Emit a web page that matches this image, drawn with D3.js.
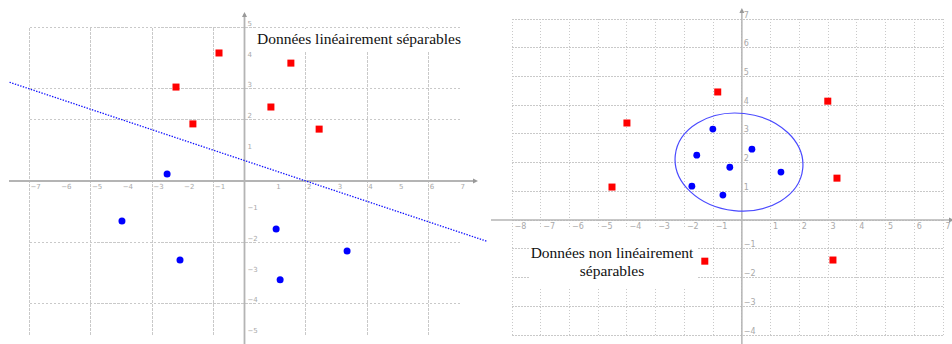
<!DOCTYPE html>
<html>
<head>
<meta charset="utf-8">
<script src="https://cdn.jsdelivr.net/npm/d3@7"></script>
<style>
  html, body { margin: 0; padding: 0; background: #fff; }
  svg { display: block; }
</style>
</head>
<body>
<svg id="chart" width="952" height="344"></svg>
<script>
// ---------- DATA ----------
// Left panel: linearly separable data
const leftRed  = [[-2.23, 3.06], [-0.83, 4.17], [-1.68, 1.86], [1.51, 3.84], [0.86, 2.41], [2.43, 1.69]];
const leftBlue = [[-2.52, 0.23], [-3.99, -1.30], [-2.10, -2.57], [1.03, -1.56], [3.34, -2.28], [1.16, -3.22]];
// Separating line: a*x + b*y = c
const sepLine = { a: 1, b: 3, c: 2 };
const sepRange = [-7.65, 7.9];
const leftTicksX = [-7, -6, -5, -4, -3, -2, -1, 1, 2, 3, 4, 5, 6, 7];
const leftTicksY = [-5, -4, -3, -2, -1, 1, 2, 3, 4, 5];
const leftGridX = [-7, -5, -3, -1, 2, 4, 6];
const leftGridY = [5, 3, 2, -2, -4];
const leftTitle = "Données linéairement séparables";

// Right panel: non linearly separable data
const rightRed  = [[-4.0, 3.38], [-0.84, 4.46], [2.99, 4.14], [-4.52, 1.15], [-1.29, -1.43], [3.31, 1.46], [3.17, -1.39]];
const rightBlue = [[-1.01, 3.17], [-1.57, 2.26], [0.35, 2.47], [-0.42, 1.84], [1.36, 1.67], [-1.74, 1.18], [-0.66, 0.87]];
const ellipse = { cx: -0.1, cy: 2.02, rx: 2.23, ry: 1.70, angle: 6 };
const rightTicksX = [-8, -7, -6, -5, -4, -3, -2, -1, 1, 2, 3, 4, 5, 6, 7];
const rightTicksY = [-4, -3, -2, -1, 1, 2, 3, 4, 5, 6, 7];
const rightGridX = d3.range(-8, 8);
const rightGridY = d3.range(-4, 8);
const rightTitle = ["Données non linéairement", "séparables"];

// ---------- DRAW ----------
const svg = d3.select("#chart");
const gridColor = "#c9c9c9";
const axisColor = "#b4b4b4";
const labelColor = "#a9a9a9";
const serif = "'Liberation Serif', 'Times New Roman', serif";
const sans = "'DejaVu Sans', sans-serif";

function drawPanel(cfg) {
  const g = svg.append("g");
  const { x, y } = cfg;
  const [gx0, gx1] = x.domain();
  const [gy0, gy1] = y.domain();

  // grid
  g.append("g").selectAll("line.vx").data(cfg.gridX).join("line")
    .attr("x1", d => x(d)).attr("x2", d => x(d))
    .attr("y1", y(gy0)).attr("y2", y(gy1))
    .attr("stroke", gridColor).attr("stroke-width", 1)
    .attr("stroke-dasharray", cfg.dash).attr("shape-rendering", "crispEdges");
  g.append("g").selectAll("line.hy").data(cfg.gridY).join("line")
    .attr("y1", d => y(d)).attr("y2", d => y(d))
    .attr("x1", x(gx0)).attr("x2", x(gx1))
    .attr("stroke", gridColor).attr("stroke-width", 1)
    .attr("stroke-dasharray", cfg.dash).attr("shape-rendering", "crispEdges");

  // text boxes (white backgrounds hiding the grid)
  cfg.boxes.forEach(b => {
    g.append("rect").attr("x", b[0]).attr("y", b[1]).attr("width", b[2]).attr("height", b[3]).attr("fill", "#fff");
  });

  // axes lines
  g.append("line")
    .attr("x1", cfg.axisX[0]).attr("x2", cfg.axisX[1])
    .attr("y1", y(0)).attr("y2", y(0))
    .attr("stroke", axisColor).attr("stroke-width", cfg.axisW);
  g.append("line")
    .attr("x1", x(0)).attr("x2", x(0))
    .attr("y1", cfg.axisY[0]).attr("y2", cfg.axisY[1])
    .attr("stroke", axisColor).attr("stroke-width", cfg.axisW);
  // arrow heads
  g.append("path")
    .attr("d", `M${cfg.axisX[1] + 2},${y(0)} l-5,-2.5 l0,5 Z`)
    .attr("fill", "#999");
  g.append("path")
    .attr("d", `M${x(0)},${cfg.axisY[0] - 2} l-2.5,5 l5,0 Z`)
    .attr("fill", "#999");

  // tick labels via d3 axes
  const ax = d3.axisBottom(x).tickValues(cfg.ticksX).tickSize(0).tickFormat(d3.format("d"));
  const axG = g.append("g").attr("transform", `translate(0,${y(0)})`).call(ax);
  axG.select(".domain").remove();
  axG.selectAll("text")
    .attr("y", cfg.xLabelDy).attr("dy", 0).attr("dx", cfg.xLabelDx)
    .attr("text-anchor", "start")
    .attr("fill", labelColor).attr("font-family", sans).attr("font-size", cfg.labelSize);

  const ay = d3.axisRight(y).tickValues(cfg.ticksY).tickSize(0).tickFormat(d3.format("d"));
  const ayG = g.append("g").attr("transform", `translate(${x(0)},0)`).call(ay);
  ayG.select(".domain").remove();
  ayG.selectAll("text")
    .attr("x", cfg.yLabelDx).attr("dy", 0).attr("y", -2)
    .attr("text-anchor", "start")
    .attr("fill", labelColor).attr("font-family", sans).attr("font-size", cfg.labelSize);

  return g;
}

// ---- Left panel ----
const xL = d3.scaleLinear().domain([-7, 7]).range([29.5, 459.5]);
const yL = d3.scaleLinear().domain([-5, 5]).range([334.5, 27.5]);
const gL = drawPanel({
  x: xL, y: yL, gridX: leftGridX, gridY: leftGridY, dash: "2.5,1.5",
  boxes: [[250, 29, 215, 23]],
  axisX: [9, 476], axisY: [14, 344], axisW: 1.8,
  ticksX: leftTicksX, ticksY: leftTicksY,
  xLabelDy: 8, xLabelDx: 0.5, yLabelDx: 3, labelSize: 7
});

// separating line
const lineFn = xv => (sepLine.c - sepLine.a * xv) / sepLine.b;
gL.append("line")
  .attr("x1", xL(sepRange[0])).attr("y1", yL(lineFn(sepRange[0])))
  .attr("x2", xL(sepRange[1])).attr("y2", yL(lineFn(sepRange[1])))
  .attr("stroke", "#1010ff").attr("stroke-width", 1.3)
  .attr("stroke-dasharray", "1.4,1.4");

gL.append("text")
  .attr("x", 257).attr("y", 44)
  .attr("font-family", serif).attr("font-size", 15.5).attr("fill", "#111")
  .text(leftTitle);

function drawPoints(g, x, y, red, blue, sq, r) {
  g.append("g").selectAll("rect").data(red).join("rect")
    .attr("x", d => x(d[0]) - sq / 2).attr("y", d => y(d[1]) - sq / 2)
    .attr("width", sq).attr("height", sq).attr("fill", "#ff0000");
  g.append("g").selectAll("circle").data(blue).join("circle")
    .attr("cx", d => x(d[0])).attr("cy", d => y(d[1])).attr("r", r)
    .attr("fill", "#0000ff");
}
drawPoints(gL, xL, yL, leftRed, leftBlue, 7, 3.5);

// ---- Right panel ----
const xR = d3.scaleLinear().domain([-8, 7]).range([512, 943]);
const yR = d3.scaleLinear().domain([-4, 7]).range([335, 19]);
const gR = drawPanel({
  x: xR, y: yR, gridX: rightGridX, gridY: rightGridY, dash: "1.5,1.5",
  boxes: [[530, 229, 167, 58]],
  axisX: [491, 952], axisY: [10, 344], axisW: 1.5,
  ticksX: rightTicksX, ticksY: rightTicksY,
  xLabelDy: 8.5, xLabelDx: 2, yLabelDx: 2, labelSize: 8
});

const ecx = xR(ellipse.cx), ecy = yR(ellipse.cy);
gR.append("ellipse")
  .attr("cx", ecx).attr("cy", ecy)
  .attr("rx", xR(ellipse.cx + ellipse.rx) - ecx)
  .attr("ry", ecy - yR(ellipse.cy + ellipse.ry))
  .attr("transform", `rotate(${ellipse.angle},${ecx},${ecy})`)
  .attr("fill", "none").attr("stroke", "#4a4aff").attr("stroke-width", 1.2);

gR.append("g").selectAll("text").data(rightTitle).join("text")
  .attr("x", 612).attr("y", (d, i) => 258 + i * 18)
  .attr("text-anchor", "middle")
  .attr("font-family", serif).attr("font-size", 15.5).attr("fill", "#111")
  .text(d => d);

drawPoints(gR, xR, yR, rightRed, rightBlue, 7, 3.4);
</script>
</body>
</html>
